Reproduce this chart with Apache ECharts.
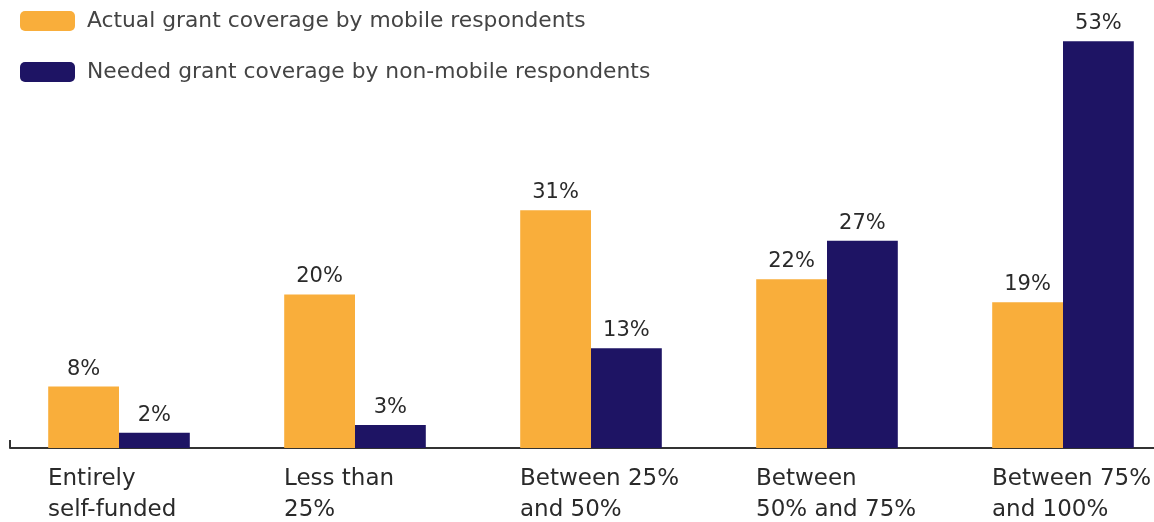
<!DOCTYPE html>
<html><head><meta charset="utf-8">
<script src="https://cdn.jsdelivr.net/npm/echarts@6/dist/echarts.min.js"></script>
<style>html,body{margin:0;padding:0;background:#fff}#c{width:1154px;height:522px}</style>
</head><body><div id="c"></div>
<script>
const categories = ['Entirely\nself-funded', 'Less than\n25%', 'Between 25%\nand 50%', 'Between\n50% and 75%', 'Between 75%\nand 100%'];
const seriesNames = ['Actual grant coverage by mobile respondents', 'Needed grant coverage by non-mobile respondents'];
const mobileActual = [8, 20, 31, 22, 19];
const nonMobileNeeded = [2, 3, 13, 27, 53];

const FONT = "'DejaVu Sans', sans-serif";
const chart = echarts.init(document.getElementById('c'));
const labelStyle = {show: true, position: 'top', distance: 7, formatter: '{c}%', color: '#2a2a2a', fontSize: 21, fontWeight: 'normal', fontFamily: FONT};
chart.setOption({
  animation: false,
  legend: {
    orient: 'vertical', left: 15, top: 5, itemWidth: 55, itemHeight: 20, itemGap: 29,
    icon: 'roundRect',
    textStyle: {fontSize: 21.8, color: '#444', fontWeight: 'normal', fontFamily: FONT, padding: [0,0,0,7]},
    data: seriesNames
  },
  grid: [
    {left: 1, width: 1180, top: 26, bottom: 74, outerBoundsMode: 'none'},
    {left: 10, right: -3, top: 26, bottom: 74, outerBoundsMode: 'none'}
  ],
  xAxis: [
    {type: 'category', gridIndex: 0, data: categories,
     axisLine: {show: false}, axisTick: {show: false},
     axisLabel: {margin: 16, width: 142, align: 'center', lineHeight: 31,
       formatter: function (v) { return v.split('\n').map(s => '{a|' + s + '}').join('\n'); },
       rich: {a: {align: 'left', fontSize: 23, fontWeight: 'normal', color: '#2a2a2a', fontFamily: FONT, lineHeight: 31}}}},
    {type: 'category', gridIndex: 1, data: [''],
     axisLine: {show: true, lineStyle: {color: '#333', width: 2}},
     axisTick: {show: true, inside: true, length: 8, lineStyle: {color: '#333', width: 2}},
     axisLabel: {show: false}}
  ],
  yAxis: [
    {type: 'value', gridIndex: 0, min: 0, max: 55, show: false},
    {type: 'value', gridIndex: 1, min: 0, max: 55, show: false}
  ],
  series: [
    {name: seriesNames[0], type: 'bar', data: mobileActual, barGap: '0%', barCategoryGap: '40%',
     itemStyle: {color: '#F9AE3B'}, label: labelStyle},
    {name: seriesNames[1], type: 'bar', data: nonMobileNeeded, barGap: '0%', barCategoryGap: '40%',
     itemStyle: {color: '#1E1464'}, label: labelStyle}
  ]
});
</script></body></html>
